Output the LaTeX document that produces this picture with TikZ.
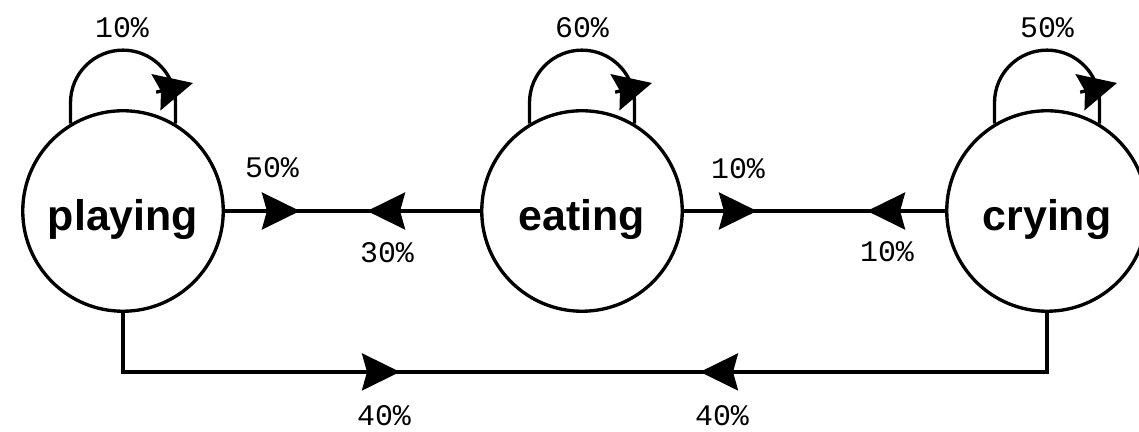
\documentclass[tikz,border=0pt]{standalone}
\usepackage{fontspec}
\setmainfont{Liberation Sans}
\newfontfamily\ratefont{Liberation Mono}
\usetikzlibrary{arrows.meta, calc, decorations.markings}

\tikzset{
  state/.style={draw, circle, line width=1.9pt, minimum size=4.01cm, inner sep=0pt,
    font=\fontsize{24.4}{29}\selectfont\bfseries, text height=1.0cm, text depth=0.2cm},
  link/.style={line width=1.9pt},
  rate/.style={font=\ratefont\fontsize{17}{20}\selectfont},
  looptip/.style={-{Stealth[length=0.76cm, width=0.74cm, inset=0.1cm]}},
  midtip/.style={postaction={decorate},
    decoration={markings, mark=at position #1 with {\arrow{Stealth[length=0.76cm, width=0.74cm, inset=0.1cm]}}}},
}

\begin{document}
\begin{tikzpicture}
  \useasboundingbox (0,0) rectangle (22.78,8.64);

  \node[state] (playing) at (2.46,4.42) {playing};
  \node[state] (eating) at (11.64,4.42) {eating};
  \node[state] (crying) at (20.94,4.42) {crying};

  % self loops
  \draw[link] (playing.121) -- ++(0,0.42) arc (180:0:1.05) -- (playing.59);
  \draw[link, looptip] ($(playing)+(0.663,2.376)$) -- ($(playing)+(1.4,2.56)$);
  \draw[link] (eating.121) -- ++(0,0.42) arc (180:0:1.05) -- (eating.59);
  \draw[link, looptip] ($(eating)+(0.663,2.376)$) -- ($(eating)+(1.4,2.56)$);
  \draw[link] (crying.121) -- ++(0,0.42) arc (180:0:1.05) -- (crying.59);
  \draw[link, looptip] ($(crying)+(0.663,2.376)$) -- ($(crying)+(1.4,2.56)$);

  % transitions
  \draw[link, midtip=1.5cm] (playing) -- (eating);
  \draw[link, midtip=2.26cm] (eating) -- (playing);
  \draw[link, midtip=1.46cm] (eating) -- (crying);
  \draw[link, midtip=1.56cm] (crying) -- (eating);
  \draw[link, midtip=6.72cm] (playing.south) -- ++(0,-1.18) -| (crying.south);
  \draw[link, midtip=8.12cm] (crying.south) -- ++(0,-1.18) -| (playing.south);

  % rates
  \node[rate] (rPP) at (2.44,8.08) {10\%};
  \node[rate] (rEE) at (11.64,8.08) {60\%};
  \node[rate] (rCC) at (20.94,8.08) {50\%};
  \node[rate] (rPE) at (5.44,5.28) {50\%};
  \node[rate] (rEP) at (7.74,3.58) {30\%};
  \node[rate] (rEC) at (14.76,5.26) {10\%};
  \node[rate] (rCE) at (17.74,3.60) {10\%};
  \node[rate] (rPC) at (7.68,0.32) {40\%};
  \node[rate] (rCP) at (14.44,0.32) {40\%};
\end{tikzpicture}
\end{document}
